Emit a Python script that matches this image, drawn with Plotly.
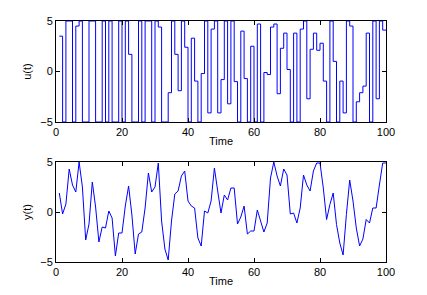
import plotly.graph_objects as go

t = list(range(1, 101))

u = [3.5, -5, 5, 5, -5, 4.5, 5, -5, -5, 5,
     5, -5, -5, 5, -5, 5, -5, -5, 5, -5,
     5, 1.7, -5, -5, 5, -5, 5, 5, -5, 5,
     4.4, -5, -5, -2.1, 5, 1.7, -1.9, 5, 2.4, -5,
     3.3, -0.95, -5, -0.2, 5, -4.1, 4.2, 5, -4.1, -0.8,
     5, -3.2, 5, -1.0, -5, 4.0, -0.7, -5, 2.5, -5,
     4.7, -5, -0.1, -0.3, 4.4, 4.7, -2.2, 2.3, 3.8, 0.2,
     -5, 3.8, -5, 4.2, 5, -2.7, 2.2, 3.8, 2.1, 2.8,
     -0.95, -5, 5, 1.0, -5, -0.95, -4.1, 5, 4.5, -5,
     -3.0, -2.1, -1.45, 3.8, -5, 5, -2.7, 5, 4.1, 4.1]

y = [1.9, -0.2, 0.8, 4.3, 2.7, 2.0, 5.0, 2.5, -2.8, -1.2,
     3.0, 0.5, -3.0, -1.5, -1.6, 0.1, -0.6, -4.4, -2.1, -2.1,
     0.6, 2.6, -0.3, -4.2, -2.2, -2.0, 0.4, 3.9, 2.0, 2.5,
     4.9, -0.9, -3.7, -4.8, -0.9, 1.8, 2.1, 3.6, 4.1, 1.1,
     0.6, 0.4, -2.6, -3.4, 0.1, -0.1, 1.1, 4.4, 2.1, -0.1,
     1.7, 1.2, 2.4, 2.4, -1.2, -0.5, 0.6, -2.2, -1.9, -1.9,
     0.2, -0.9, -2.0, -1.1, 3.4, 5.0, 3.6, 2.6, 4.3, 3.7,
     -0.2, -0.1, -1.1, 0.4, 3.7, 2.7, 2.1, 4.1, 4.9, 4.9,
     2.4, -0.75, 0.75, 1.9, -1.25, -3.1, -4.3, -0.25, 3.2, 1.1,
     -1.6, -3.4, -2.7, -0.75, -1.1, 0.4, 0.4, 2.7, 4.9, 4.9]

x_ticks = [0, 20, 40, 60, 80, 100]
y_ticks = [-5, 0, 5]
x_label = "Time"
y_labels = ["u(t)", "y(t)"]

W, H = 427, 295
xd = [56 / W, 386 / W]
yd_top = [1 - 122 / H, 1 - 21 / H]
yd_bot = [1 - 262 / H, 1 - 162 / H]

FONT = dict(family="Liberation Sans, Arial, Helvetica, sans-serif", size=11, color="black")

fig = go.Figure()
fig.add_trace(go.Scatter(x=t, y=u, mode="lines", line=dict(color="#0000ff", width=1, shape="hv"),
                         xaxis="x", yaxis="y", showlegend=False))
fig.add_trace(go.Scatter(x=t, y=y, mode="lines", line=dict(color="#0000ff", width=1),
                         xaxis="x2", yaxis="y2", showlegend=False))

def xax(anchor):
    return dict(domain=xd, range=[0, 100], tickvals=x_ticks, ticks="inside", ticklen=4,
                showline=True, mirror="ticks", linecolor="black", linewidth=1, tickcolor="black",
                showgrid=False, zeroline=False, anchor=anchor, tickfont=FONT,
                title=dict(text=x_label, font=FONT, standoff=0))

def yax(dom, anchor, label):
    return dict(domain=dom, range=[-5, 5], tickvals=y_ticks, ticks="inside", ticklen=4,
                showline=True, mirror="ticks", linecolor="black", linewidth=1, tickcolor="black",
                showgrid=False, zeroline=False, anchor=anchor, tickfont=FONT,
                title=dict(text=label, font=FONT, standoff=6))

fig.update_layout(
    width=W, height=H,
    margin=dict(l=0, r=0, t=0, b=0),
    paper_bgcolor="white", plot_bgcolor="white",
    xaxis=xax("y"), yaxis=yax(yd_top, "x", y_labels[0]),
    xaxis2=xax("y2"), yaxis2=yax(yd_bot, "x2", y_labels[1]),
)
for ax in ["xaxis", "yaxis", "xaxis2", "yaxis2"]:
    fig.layout[ax].automargin = False

fig.write_html("out.html", config={"displayModeBar": False},
               post_script="document.body.style.margin='0px';")
